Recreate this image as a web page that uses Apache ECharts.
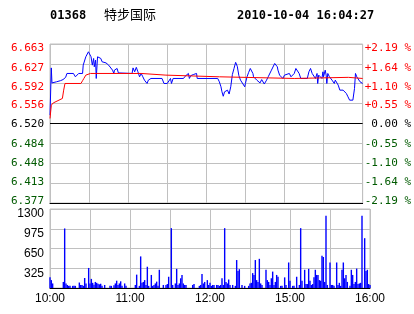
<!DOCTYPE html>
<html><head><meta charset="utf-8">
<script src="https://cdn.jsdelivr.net/npm/echarts@6/dist/echarts.min.js"></script>
<style>html,body{margin:0;padding:0;background:#fff}#c{width:414px;height:314px}</style>
</head><body><div id="c"></div>
<script>
const stockCode = '01368';
const stockName = '特步国际';
const timestamp = '2010-10-04 16:04:27';
const prevClose = 6.520;
const priceMin = 6.377;
const priceMax = 6.663;
const priceTicks = ['6.377','6.413','6.448','6.484','6.520','6.556','6.592','6.627','6.663'];
const pctTicks = ['-2.19 %','-1.64 %','-1.10 %','-0.55 %',' 0.00 %','+0.55 %','+1.10 %','+1.64 %','+2.19 %'];
const timeTicks = ['10:00','','11:00','','12:00','','15:00','','16:00'];
const volTicks = ['','325','650','975','1300'];

// minutes since 10:00 (trading minutes) and last price
const priceTimes = [0,1,1.5,3,5,8,10,12,13,18,19.5,21,22,25,25.5,27,27.5,29,29.5,30.5,31.5,32.5,33.5,34,35,35.5,36.5,38,39,40,43,45,46,48,49,49.5,50.5,51.5,52.5,54,63,63.75,65,66.25,67.5,68.75,70,71.25,72.5,73.75,74.5,75.5,77.5,86,87.5,90,91.25,92.5,93.25,94.5,102.5,103.75,105,106.25,107,108,110,111.25,112.5,113,128.75,130,131.25,132,133,134,135,136.25,137.5,138.75,140,141.25,142.5,143.75,145,146.25,147.5,149.5,150,151.25,152.5,153.75,155,155.75,156.25,158.75,161.25,162.5,163.75,164.5,166.25,167.5,168.75,170,172.5,173.75,174.5,175,176.25,177.5,178.75,180,181.25,183.75,185,186.25,187.5,188.75,190,191.25,192.5,197.5,198.75,200,201.25,202.5,203.75,204.5,205,205.5,206.25,207.5,208.75,209.5,210,211.25,212,212.5,213.25,214.5,215.5,216.5,217.5,218.25,219,220,221.25,222.5,225,226.25,227.5,228.75,230,232.5,233.75,234.5,235.5,236.5,238,238.75,240];
const priceValues = [6.535,6.620,6.593,6.593,6.595,6.597,6.599,6.603,6.610,6.610,6.604,6.604,6.610,6.610,6.625,6.625,6.640,6.643,6.649,6.646,6.640,6.625,6.637,6.622,6.634,6.601,6.640,6.640,6.637,6.631,6.629,6.625,6.622,6.616,6.610,6.616,6.619,6.619,6.611,6.610,6.610,6.620,6.613,6.621,6.613,6.604,6.610,6.604,6.598,6.595,6.592,6.598,6.601,6.601,6.592,6.592,6.595,6.601,6.592,6.601,6.601,6.605,6.608,6.610,6.601,6.606,6.608,6.610,6.610,6.601,6.601,6.595,6.586,6.577,6.569,6.577,6.574,6.580,6.573,6.586,6.608,6.619,6.630,6.623,6.606,6.598,6.595,6.586,6.592,6.604,6.612,6.619,6.619,6.610,6.604,6.598,6.593,6.599,6.599,6.591,6.598,6.604,6.601,6.616,6.628,6.628,6.622,6.616,6.607,6.604,6.601,6.607,6.610,6.610,6.604,6.601,6.610,6.619,6.622,6.610,6.601,6.601,6.613,6.619,6.610,6.607,6.601,6.598,6.610,6.592,6.607,6.610,6.601,6.613,6.604,6.616,6.607,6.592,6.610,6.604,6.601,6.598,6.601,6.592,6.598,6.595,6.589,6.580,6.580,6.577,6.574,6.568,6.562,6.562,6.583,6.610,6.604,6.601,6.595,6.592,6.592];

// average price
const avgTimes = [0,1,2.5,9.5,10.5,11.5,23.75,25,26,27.5,31,70,70.5,89,89.5,130,130.5,187.5,188,229,229.5,240];
const avgValues = [6.529,6.553,6.557,6.565,6.580,6.592,6.592,6.597,6.601,6.607,6.610,6.610,6.607,6.607,6.604,6.604,6.601,6.601,6.603,6.603,6.601,6.601];

// volume per minute
const volTimes = [0,1,2,10,11,12,13,14,15,17,18,19,22,23,24,25,26,27,29,30,31,32,33,34,35,36,37,38,39,41,45,46,48,49,50,51,52,53,54,56,57,64,65,67,68,69,70,71,72,73,74,76,77,78,79,80,81,82,85,87,88,89,91,92,94,95,96,97,98,99,100,101,102,107,108,112,113,114,115,116,118,119,120,121,122,123,125,126,127,128,129,130,131,132,133,134,135,137,139,140,141,142,144,146,149,150,151,152,153,154,155,156,157,158,159,162,163,164,165,166,167,168,169,170,171,173,174,176,177,179,180,182,183,185,187,188,189,191,192,193,194,195,196,197,198,199,200,201,202,203,204,205,206,207,208,210,211,212,213,215,216,217,218,219,220,221,222,223,225,226,227,228,229,230,231,232,233,234,236,237,238,239,240];
const volValues = [175,130,75,100,980,75,50,35,35,35,35,35,90,50,50,35,165,75,330,75,150,85,55,100,85,70,60,70,35,50,35,35,45,75,120,50,75,110,35,75,35,50,220,35,520,85,100,130,50,350,35,215,35,50,75,105,35,300,50,50,65,185,985,50,75,315,50,75,160,215,75,50,50,50,65,35,50,230,75,100,130,50,85,35,50,50,50,50,35,50,160,50,985,100,75,140,50,50,35,460,280,310,50,35,35,75,85,245,215,460,130,100,480,75,50,300,130,100,50,160,270,50,100,215,185,35,35,175,50,420,120,35,35,185,50,985,120,300,65,65,315,120,50,65,175,300,215,215,130,120,530,510,100,1190,50,420,50,50,35,420,50,85,35,300,420,160,215,100,35,300,215,65,100,320,65,75,85,1190,820,280,300,65,50];

const pricePairs = priceTimes.map((t, i) => [t, priceValues[i]]);
const avgPairs = avgTimes.map((t, i) => [t, avgValues[i]]);
const volPairs = volTimes.map((t, i) => [t, volValues[i]]);

const RED = '#ff0000', GREEN = '#005a00', GRID = '#c0c0c0';
const priceInterval = (priceMax - priceMin) / 8;
const tickIndex = v => Math.round((v - priceMin) / priceInterval);
const mono = 'DejaVu Sans Mono';
const sans = 'Liberation Sans';
const pad = d => d >= 0 ? [2 * d, 0, 0, 0] : [0, 0, -2 * d, 0];

// label nudges (px, + = down) so the labels sit like the original
const labelShift = [-2, -1, 0, 1, 1, 2, 3, 4, 4];
const rich = {};
labelShift.forEach((d, i) => {
  rich['p' + i] = {
    color: i > 4 ? RED : (i < 4 ? GREEN : '#000'),
    fontFamily: mono, fontSize: 11, padding: pad(d)
  };
});
const richLabel = arr => v => { const i = tickIndex(v); return '{p' + i + '|' + arr[i] + '}'; };
const volRich = {v: {color: '#000', fontFamily: sans, fontSize: 12, padding: pad(5)}};

const chart = echarts.init(document.getElementById('c'), null, {renderer: 'canvas'});
chart.setOption({
  animation: false,
  backgroundColor: '#fff',
  title: [
    {text: stockCode, left: 50, top: 10, padding: 0, textStyle: {fontFamily: mono, fontWeight: 'bold', fontSize: 12, color: '#000'}},
    {text: stockName, left: 104, top: 8, padding: 0, textStyle: {fontFamily: 'Noto Sans CJK SC', fontWeight: 'normal', fontSize: 13, color: '#000'}},
    {text: timestamp, left: 237, top: 10, padding: 0, textStyle: {fontFamily: mono, fontWeight: 'bold', fontSize: 12, color: '#000'}}
  ],
  grid: [
    {left: 50, right: 44, top: 44, height: 159, show: true, borderColor: GRID, borderWidth: 1, backgroundColor: 'transparent'},
    {left: 50, right: 44, top: 209, height: 79, show: true, borderColor: GRID, borderWidth: 1, backgroundColor: 'transparent'}
  ],
  xAxis: [
    {type: 'value', gridIndex: 0, min: 0, max: 240, interval: 30,
     axisLabel: {show: false}, axisTick: {show: false},
     axisLine: {show: true, onZero: false, lineStyle: {color: '#000', width: 1}},
     splitLine: {show: true, lineStyle: {color: GRID, width: 1}}},
    {type: 'value', gridIndex: 1, min: 0, max: 240, interval: 30,
     axisTick: {show: false},
     axisLine: {show: true, onZero: false, lineStyle: {color: '#000', width: 1}},
     splitLine: {show: true, lineStyle: {color: GRID, width: 1}},
     axisLabel: {show: true, margin: 5, fontFamily: sans, fontSize: 12, color: '#000', showMinLabel: true, showMaxLabel: true,
       formatter: v => timeTicks[Math.round(v / 30)] || ''}}
  ],
  yAxis: [
    {type: 'value', gridIndex: 0, min: priceMin, max: priceMax, interval: priceInterval, position: 'left',
     axisLine: {show: false}, axisTick: {show: false},
     splitLine: {show: true, lineStyle: {color: GRID, width: 1}},
     axisLabel: {margin: 6, showMinLabel: true, showMaxLabel: true, formatter: richLabel(priceTicks), rich: rich}},
    {type: 'value', gridIndex: 0, min: priceMin, max: priceMax, interval: priceInterval, position: 'right',
     axisLine: {show: false}, axisTick: {show: false}, splitLine: {show: false},
     axisLabel: {margin: 2, showMinLabel: true, showMaxLabel: true, formatter: richLabel(pctTicks), rich: rich}},
    {type: 'value', gridIndex: 1, min: 0, max: 1300, interval: 325, position: 'left',
     axisLine: {show: false}, axisTick: {show: false},
     splitLine: {show: true, lineStyle: {color: GRID, width: 1}},
     axisLabel: {margin: 6, showMinLabel: true, showMaxLabel: true, rich: volRich,
       formatter: v => { const t = volTicks[Math.round(v / 325)]; return t ? '{v|' + t + '}' : ''; }}}
  ],
  series: [
    {type: 'line', xAxisIndex: 0, yAxisIndex: 0, data: avgPairs, showSymbol: false, symbol: 'none',
     lineStyle: {color: RED, width: 1}, z: 3,
     markLine: {silent: true, symbol: 'none', label: {show: false},
       lineStyle: {color: '#000', width: 1, type: 'solid'}, data: [{yAxis: prevClose}]}},
    {type: 'line', xAxisIndex: 0, yAxisIndex: 0, data: pricePairs, showSymbol: false, symbol: 'none',
     lineStyle: {color: '#0000ff', width: 1}, z: 2},
    {type: 'bar', xAxisIndex: 1, yAxisIndex: 2, data: volPairs, barWidth: 1.4,
     itemStyle: {color: '#0000ff'}}
  ]
});
</script>
</body></html>
